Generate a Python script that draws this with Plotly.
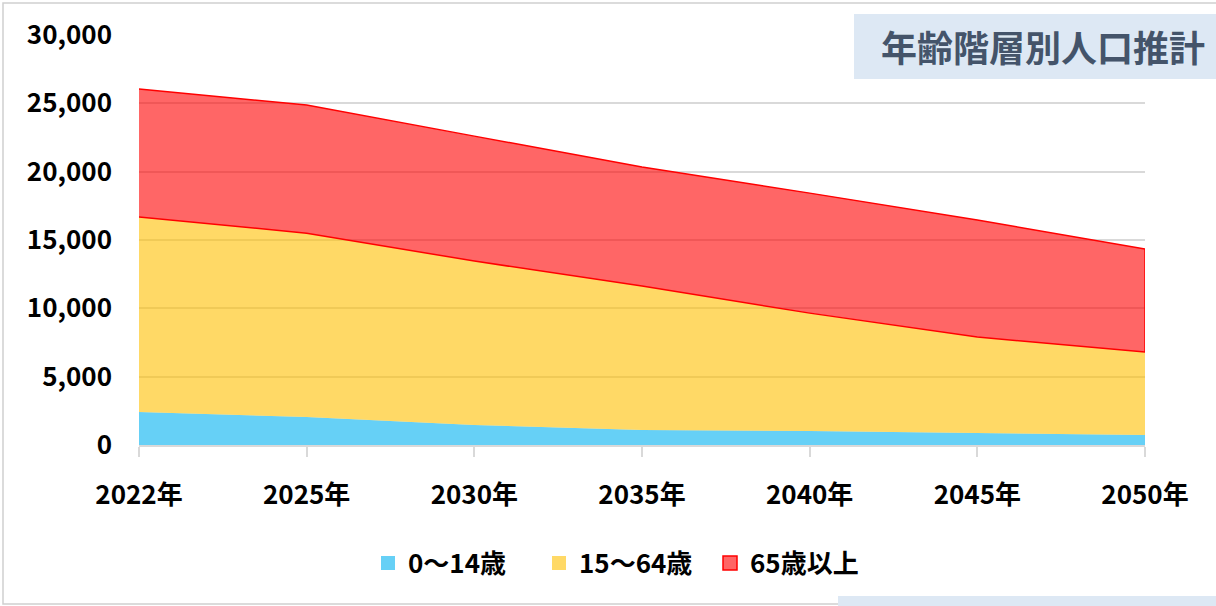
import plotly.graph_objects as go

years = ["2022年", "2025年", "2030年", "2035年", "2040年", "2045年", "2050年"]
age_0_14 = [2420, 2050, 1460, 1100, 1020, 880, 730]
age_15_64 = [14260, 13450, 12000, 10530, 8630, 7020, 6070]
age_65_plus = [9360, 9370, 9140, 8710, 8780, 8560, 7540]

names = ["0〜14歳", "15〜64歳", "65歳以上"]
fills = ["rgba(0,176,240,0.6)", "rgba(255,192,0,0.6)", "rgba(255,0,0,0.6)"]
borders = ["rgba(0,176,240,0)", "rgba(255,192,0,0)", "#ff0000"]

W, H = 1216, 606
ML, MR, MT, MB = 139, 71, 35, 161
PW, PH = W - ML - MR, H - MT - MB

def px(x):
    return (x - ML) / PW

def py(y):
    return (H - MB - y) / PH

FONT = "Noto Sans CJK JP"

mid = [a + b for a, b in zip(age_0_14, age_15_64)]
top = [m + c for m, c in zip(mid, age_65_plus)]

fig = go.Figure()
fig.add_trace(go.Scatter(
    x=years, y=age_0_14, name=names[0], stackgroup="s", mode="lines",
    line=dict(width=0, color=fills[0]), fillcolor=fills[0], showlegend=False))
fig.add_trace(go.Scatter(
    x=years, y=age_15_64, name=names[1], stackgroup="s", mode="lines",
    line=dict(width=0, color=fills[1]), fillcolor=fills[1], showlegend=False))
fig.add_trace(go.Scatter(
    x=years + years[::-1], y=top + mid[::-1], name=names[2],
    mode="lines", fill="toself",
    line=dict(width=1.5, color="#ff0000"), fillcolor=fills[2], showlegend=False))

# legend entries with square symbols
for n, f, b in zip(names, fills, borders):
    fig.add_trace(go.Scatter(
        x=[None], y=[None], name=n, mode="markers",
        marker=dict(symbol="square", size=14, color=f, line=dict(width=1.5, color=b))))

fig.update_layout(
    width=W, height=H,
    margin=dict(l=ML, r=MR, t=MT, b=MB),
    paper_bgcolor="white", plot_bgcolor="white",
    font=dict(family=FONT, color="#000000"),
    showlegend=True,
    legend=dict(orientation="h", x=px(368), xanchor="left", y=py(563), yanchor="middle",
                font=dict(family=FONT, size=26, color="#000000", weight="bold"),
                itemwidth=30, entrywidth=126, entrywidthmode="pixels",
                traceorder="normal", bgcolor="rgba(0,0,0,0)"),
    xaxis=dict(type="category", categoryarray=years, range=[0, 6],
               showgrid=False, showline=True, linecolor="#d9d9d9", linewidth=1.5,
               ticks="outside", ticklen=10, tickcolor="#d9d9d9", tickwidth=1.5,
               ticklabelstandoff=16,
               tickfont=dict(family=FONT, size=26, color="#000000", weight="bold")),
    yaxis=dict(range=[0, 30000], dtick=5000, tickformat=",",
               showgrid=True, gridcolor="#d9d9d9", gridwidth=1.5,
               zeroline=False, showline=False, ticks="",
               ticklabelstandoff=26,
               tickfont=dict(family=FONT, size=26, color="#000000", weight="bold")),
    shapes=[
        dict(type="rect", xref="paper", yref="paper",
             x0=px(3), x1=px(1230), y0=py(604), y1=py(3),
             line=dict(color="#d0d0d0", width=1.5), fillcolor="rgba(0,0,0,0)", layer="below"),
        dict(type="rect", xref="paper", yref="paper",
             x0=px(854), x1=px(1230), y0=py(79), y1=py(14),
             line=dict(width=0), fillcolor="#dde8f4", layer="above"),
        dict(type="rect", xref="paper", yref="paper",
             x0=px(838), x1=px(1230), y0=py(610), y1=py(596),
             line=dict(width=0), fillcolor="#dde8f4", layer="above"),
    ],
    annotations=[
        dict(text="年齢階層別人口推計", xref="paper", yref="paper",
             x=px(1043), y=py(46), xanchor="center", yanchor="middle", showarrow=False,
             font=dict(family=FONT, size=36, color="#44546a", weight="bold")),
    ],
)

fig.write_html("out.html", config={"displayModeBar": False},
               post_script="document.body.style.margin='0';document.body.style.padding='0';")
